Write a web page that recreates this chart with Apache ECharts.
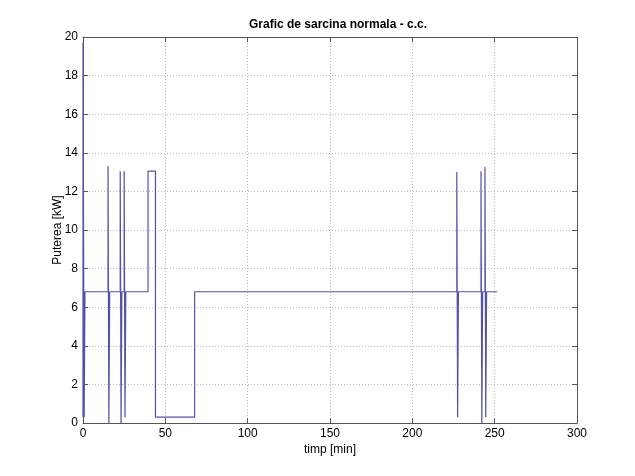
<!DOCTYPE html>
<html>
<head>
<meta charset="utf-8">
<script src="https://cdn.jsdelivr.net/npm/echarts@6/dist/echarts.min.js"></script>
<style>html,body{margin:0;padding:0;background:#fff;}#c{width:635px;height:476px;}</style>
</head>
<body>
<div id="c"></div>
<script>
const chartTitle = "Grafic de sarcina normala - c.c.";
const xName = "timp [min]";
const yName = "Puterea [kW]";
// step profile: time [min] and power [kW]
const timeValues = [0, 0, 0.7, 0.7, 1.2, 1.2, 15.2, 15.2, 15.7, 15.7, 16.2, 16.2, 22.6, 22.6, 23.1, 23.1, 23.6, 23.6, 25, 25, 25.5, 25.5, 26, 26, 39.5, 39.5, 44, 44, 67.8, 67.8, 227, 227, 227.5, 227.5, 228, 228, 241.7, 241.7, 242.2, 242.2, 242.7, 242.7, 244.1, 244.1, 244.6, 244.6, 245.1, 245.1, 251.5];
const powerValues = [0.3, 19.7, 19.7, 0.3, 0.3, 6.8, 6.8, 13.3, 13.3, 0, 0, 6.8, 6.8, 13.05, 13.05, 0, 0, 6.8, 6.8, 13.05, 13.05, 0.3, 0.3, 6.8, 6.8, 13.05, 13.05, 0.3, 0.3, 6.8, 6.8, 13.0, 13.0, 0.3, 0.3, 6.8, 6.8, 13.05, 13.05, 0, 0, 6.8, 6.8, 13.26, 13.26, 0.3, 0.3, 6.8, 6.8];
const xTicks = {min: 0, max: 300, interval: 50};
const yTicks = {min: 0, max: 20, interval: 2};

const data = timeValues.map((t, i) => [t, powerValues[i]]);
const font = "Liberation Sans, Arial, sans-serif";
const axisColor = "#555";
const chart = echarts.init(document.getElementById('c'));
const baseX = {
  type: 'value', min: xTicks.min, max: xTicks.max, interval: xTicks.interval,
  axisLine: {show: true, onZero: false, lineStyle: {color: axisColor, width: 1}},
  axisTick: {show: true, inside: true, length: 5, lineStyle: {color: axisColor}},
  splitLine: {show: false}
};
const baseY = {
  type: 'value', min: yTicks.min, max: yTicks.max, interval: yTicks.interval,
  axisLine: {show: true, onZero: false, lineStyle: {color: axisColor, width: 1}},
  axisTick: {show: true, inside: true, length: 5, lineStyle: {color: axisColor}},
  splitLine: {show: false}
};
chart.setOption({
  animation: false,
  backgroundColor: '#fff',
  title: {
    text: chartTitle, left: 333, top: 14, textAlign: 'center',
    textStyle: {fontFamily: font, fontSize: 12, fontWeight: 'bold', color: '#000'}
  },
  grid: {left: 83, right: 58, top: 37, bottom: 53, containLabel: false},
  xAxis: [
    Object.assign({}, baseX, {
      position: 'bottom',
      name: xName, nameLocation: 'middle', nameGap: 21, nameMoveOverlap: false,
      nameTextStyle: {fontFamily: font, fontSize: 12, color: '#000', padding: 0},
      axisLabel: {fontFamily: font, fontSize: 12, color: '#000', margin: 5},
      splitLine: {show: true, lineStyle: {color: '#bbb', type: [1, 2], width: 1}}
    }),
    Object.assign({}, baseX, {position: 'top', axisLabel: {show: false}})
  ],
  yAxis: [
    Object.assign({}, baseY, {
      position: 'left',
      name: yName, nameLocation: 'middle', nameGap: 19, nameMoveOverlap: false,
      nameTextStyle: {fontFamily: font, fontSize: 12, color: '#000', padding: 0},
      axisLabel: {fontFamily: font, fontSize: 12, color: '#000', margin: 5},
      splitLine: {show: true, lineStyle: {color: '#bbb', type: [1, 2], width: 1}}
    }),
    Object.assign({}, baseY, {position: 'right', axisLabel: {show: false}})
  ],
  series: [{
    type: 'line', data: data, showSymbol: false, symbol: 'none',
    lineStyle: {color: '#5252ac', width: 1.2},
    xAxisIndex: 0, yAxisIndex: 0
  }]
});
</script>
</body>
</html>
